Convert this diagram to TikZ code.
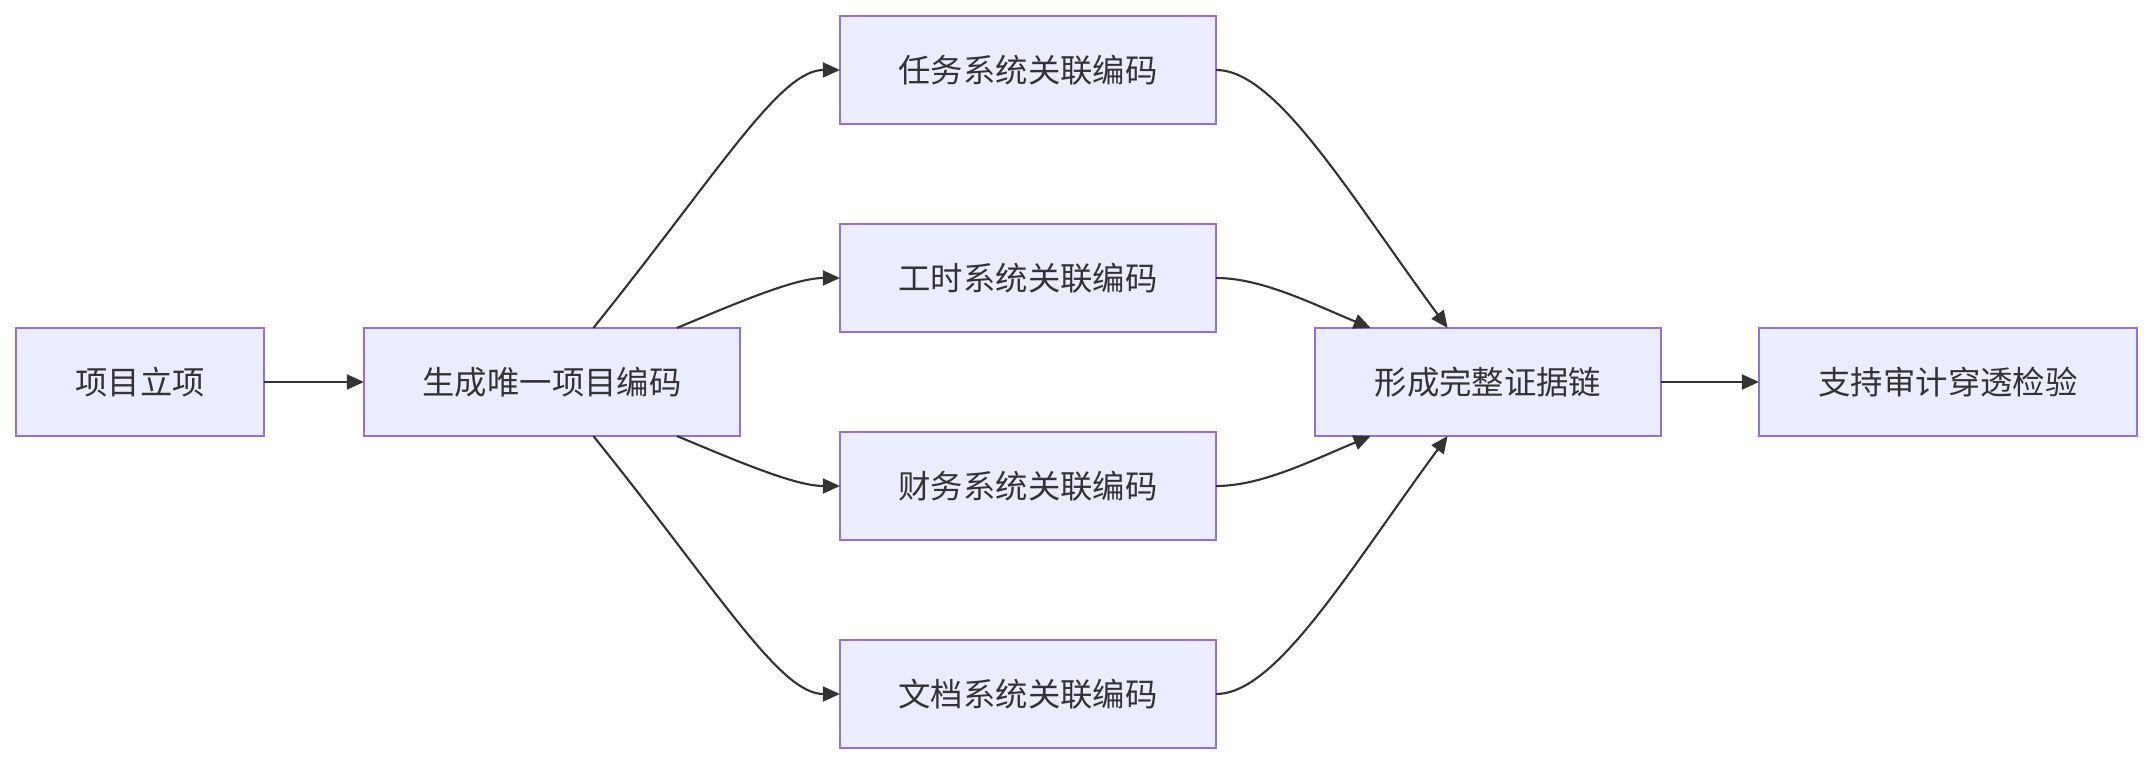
\documentclass[tikz,border=0pt]{standalone}
\usepackage{fontspec}
\newfontfamily\cjk{Noto Sans CJK SC}
\usetikzlibrary{arrows.meta,calc}
\definecolor{boxfill}{HTML}{ECECFF}
\definecolor{boxline}{HTML}{9370DB}
\definecolor{ink}{HTML}{333333}
\tikzset{
  box/.style={draw=boxline, fill=boxfill, line width=0.55pt, inner sep=0pt, outer sep=0pt,
    minimum height=1.08cm, text=ink, font=\cjk\fontsize{9.2}{11}\selectfont},
  link/.style={draw=ink, line width=0.6pt, -{Triangle[length=0.17cm,width=0.15cm]}}
}
\begin{document}
\begin{tikzpicture}[x=0.01cm,y=-0.01cm]
\useasboundingbox (0,0) rectangle (2152,764);
\node[box, minimum width=2.47cm] (A) at (140,382) {项目立项};
\node[box, minimum width=3.76cm] (B) at (552,382) {生成唯一项目编码};
\node[box, minimum width=3.76cm] (C) at (1028,70) {任务系统关联编码};
\node[box, minimum width=3.76cm] (D) at (1028,278) {工时系统关联编码};
\node[box, minimum width=3.76cm] (E) at (1028,486) {财务系统关联编码};
\node[box, minimum width=3.76cm] (F) at (1028,694) {文档系统关联编码};
\node[box, minimum width=3.45cm] (G) at (1488,382) {形成完整证据链};
\node[box, minimum width=3.78cm] (H) at (1948,382) {支持审计穿透检验};

\draw[link] (A.east) -- (B.west);
\draw[link] (G.east) -- (H.west);

\draw[link] ($(B.north west)!0.61!(B.north east)$) .. controls +(127,-158) and +(-60,0) .. (C.west);
\draw[link] ($(B.north west)!0.832!(B.north east)$) .. controls +(60,-25) and +(-45,0) .. (D.west);
\draw[link] ($(B.south west)!0.832!(B.south east)$) .. controls +(60,25) and +(-45,0) .. (E.west);
\draw[link] ($(B.south west)!0.61!(B.south east)$) .. controls +(127,158) and +(-60,0) .. (F.west);

\draw[link] (C.east) .. controls +(60,0) and +(-100,-136) .. ($(G.north west)!0.383!(G.north east)$);
\draw[link] (D.east) .. controls +(45,0) and +(-60,-25) .. ($(G.north west)!0.16!(G.north east)$);
\draw[link] (E.east) .. controls +(45,0) and +(-60,25) .. ($(G.south west)!0.16!(G.south east)$);
\draw[link] (F.east) .. controls +(60,0) and +(-100,136) .. ($(G.south west)!0.383!(G.south east)$);
\end{tikzpicture}
\end{document}
